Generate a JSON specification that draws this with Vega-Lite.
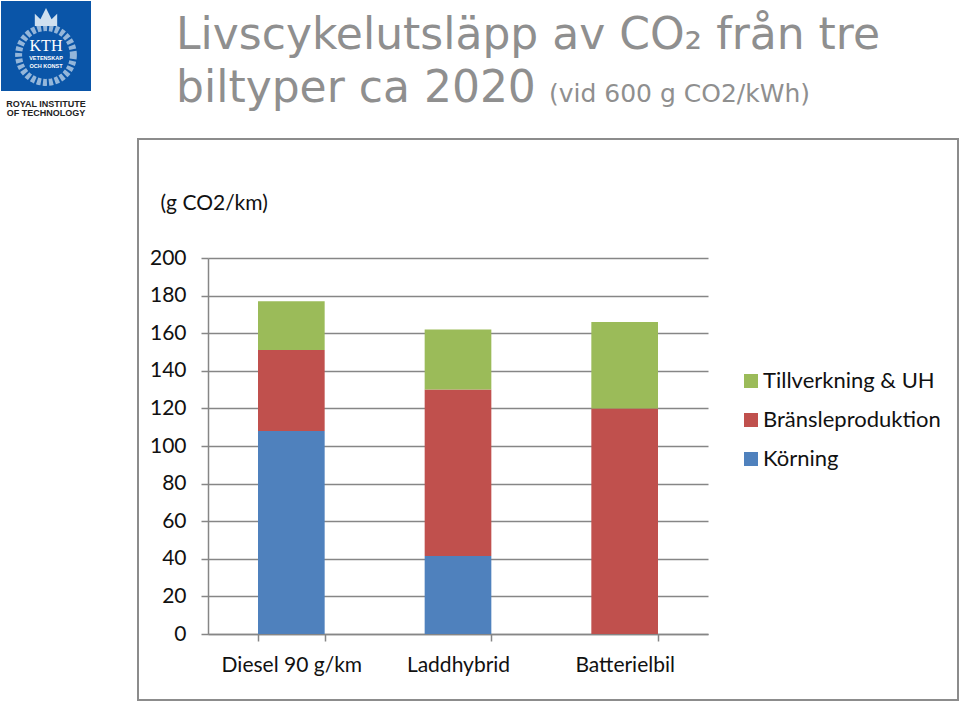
{
"$schema":"https://vega.github.io/schema/vega-lite/v6.json",
"width":500,"height":376,
"autosize":"none",
"padding":{"left":208,"top":258,"right":252,"bottom":68},
"background":"white",
"config":{"view":{"stroke":null},"font":"Lato"},
"title":{"text":["Livscykelutsläpp av CO₂ från tre","biltyper ca 2020"],"anchor":"start","frame":"group","font":"DejaVu Sans","fontSize":44,"fontWeight":"normal","color":"#8f8f8f","lineHeight":53,"dx":-32,"dy":110,"offset":0},
"datasets":{"utslapp":[
{"bil":"Diesel 90 g/km","del":"Körning","ordning":1,"g":108},
{"bil":"Diesel 90 g/km","del":"Bränsleproduktion","ordning":2,"g":43},
{"bil":"Diesel 90 g/km","del":"Tillverkning & UH","ordning":3,"g":26},
{"bil":"Laddhybrid","del":"Körning","ordning":1,"g":41.5},
{"bil":"Laddhybrid","del":"Bränsleproduktion","ordning":2,"g":88.5},
{"bil":"Laddhybrid","del":"Tillverkning & UH","ordning":3,"g":32},
{"bil":"Batterielbil","del":"Körning","ordning":1,"g":0},
{"bil":"Batterielbil","del":"Bränsleproduktion","ordning":2,"g":120},
{"bil":"Batterielbil","del":"Tillverkning & UH","ordning":3,"g":46}
]},
"layer":[
{"data":{"values":[{}]},"mark":{"type":"rect","fill":null,"stroke":"#8c8c8c","strokeWidth":2},"encoding":{"x":{"value":-70},"x2":{"value":750},"y":{"value":-119},"y2":{"value":442}}},
{"data":{"name":"utslapp"},"mark":{"type":"bar"},
"encoding":{
"x":{"field":"bil","type":"nominal","sort":["Diesel 90 g/km","Laddhybrid","Batterielbil"],"scale":{"paddingInner":0.6,"paddingOuter":0.3},"title":null,
"axis":{"labelAngle":0,"labelFontSize":21,"labelColor":"#111111","labelPadding":13,"labelFont":"Lato","tickBand":"extent","tickSize":7,"tickColor":"#868686","tickWidth":1.5,"domainColor":"#868686","domainWidth":1.5,"grid":false}},
"y":{"field":"g","type":"quantitative","stack":"zero","scale":{"domain":[0,200],"nice":false},"title":"(g CO2/km)",
"axis":{"values":[0,20,40,60,80,100,120,140,160,180,200],"labelFontSize":21,"labelColor":"#111111","labelPadding":15,"labelFont":"Lato","tickSize":7,"tickColor":"#868686","tickWidth":1.5,"domainColor":"#868686","domainWidth":1.5,"grid":true,"gridColor":"#868686","gridWidth":1.5,"titleAngle":0,"titleAlign":"left","titleBaseline":"alphabetic","titleX":-48,"titleY":-49,"titleFontSize":21,"titleFontWeight":"normal","titleColor":"#111111","titleFont":"Lato"}},
"color":{"field":"del","type":"nominal","scale":{"domain":["Tillverkning & UH","Bränsleproduktion","Körning"],"range":["#9bbb59","#c0504d","#4f81bd"]},
"legend":{"title":null,"orient":"none","legendX":532,"legendY":112,"symbolType":"square","symbolSize":196,"symbolStrokeWidth":0,"labelFontSize":22,"labelColor":"#111111","labelFont":"Lato","labelOffset":1,"rowPadding":17,"labelLimit":300}},
"order":{"field":"ordning","type":"quantitative"}
}},
{"data":{"values":[{"t":"(vid 600 g CO2/kWh)"}]},"mark":{"type":"text","align":"left","baseline":"alphabetic","font":"DejaVu Sans","fontSize":25,"color":"#8f8f8f"},"encoding":{"text":{"field":"t"},"x":{"value":341},"y":{"value":-156}}},
{"data":{"values":[{}]},"mark":{"type":"rect","fill":"#0a55a8"},"encoding":{"x":{"value":-207},"x2":{"value":-117},"y":{"value":-257},"y2":{"value":-167}}},
{"data":{"values":[{}]},"mark":{"type":"point","shape":"circle","size":3000,"filled":false,"stroke":"#cfe0f0","strokeWidth":7,"strokeDash":[4,2]},"encoding":{"x":{"value":-162},"y":{"value":-203}}},
{"data":{"values":[{}]},"mark":{"type":"point","shape":"M-1,0.8 L-1,-0.3 L-0.5,0.2 L0,-0.8 L0.5,0.2 L1,-0.3 L1,0.8 Z","size":500,"filled":true,"fill":"#cfe0f0","opacity":1},"encoding":{"x":{"value":-162},"y":{"value":-241}}},
{"data":{"values":[{"t":"KTH"}]},"mark":{"type":"text","align":"center","baseline":"alphabetic","font":"Liberation Serif","fontSize":16,"color":"white"},"encoding":{"text":{"field":"t"},"x":{"value":-162},"y":{"value":-207}}},
{"data":{"values":[{"t":"VETENSKAP"}]},"mark":{"type":"text","align":"center","baseline":"alphabetic","font":"Liberation Sans","fontWeight":"bold","fontSize":5.5,"color":"white"},"encoding":{"text":{"field":"t"},"x":{"value":-162},"y":{"value":-198}}},
{"data":{"values":[{"t":"OCH KONST"}]},"mark":{"type":"text","align":"center","baseline":"alphabetic","font":"Liberation Sans","fontWeight":"bold","fontSize":5.5,"color":"white"},"encoding":{"text":{"field":"t"},"x":{"value":-162},"y":{"value":-190}}},
{"data":{"values":[{"t":"ROYAL INSTITUTE"}]},"mark":{"type":"text","align":"center","baseline":"alphabetic","font":"Liberation Sans","fontWeight":"bold","fontSize":9,"color":"#222222"},"encoding":{"text":{"field":"t"},"x":{"value":-162},"y":{"value":-151}}},
{"data":{"values":[{"t":"OF TECHNOLOGY"}]},"mark":{"type":"text","align":"center","baseline":"alphabetic","font":"Liberation Sans","fontWeight":"bold","fontSize":9,"color":"#222222"},"encoding":{"text":{"field":"t"},"x":{"value":-162},"y":{"value":-142}}}
],
"resolve":{"scale":{"x":"shared","y":"shared"}}
}
